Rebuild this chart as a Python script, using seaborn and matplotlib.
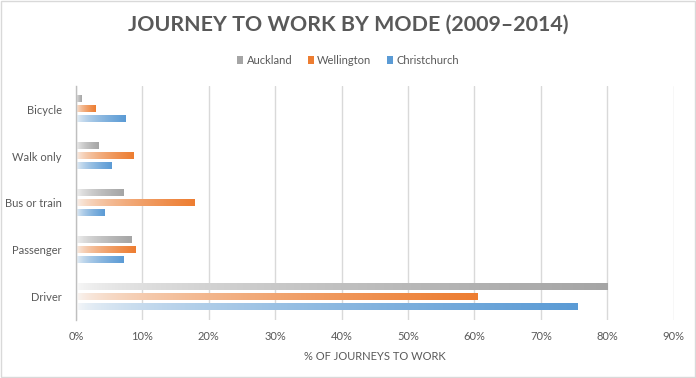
import numpy as np
import pandas as pd
import matplotlib.pyplot as plt
import seaborn as sns
from matplotlib.colors import to_rgb
from matplotlib.patches import Patch, Rectangle

# ---------------------------
# data (percent of journeys to work)
# ---------------------------
modes = ["Bicycle", "Walk only", "Bus or train", "Passenger", "Driver"]
cities = ["Auckland", "Wellington", "Christchurch"]
auckland = [0.8, 3.4, 7.1, 8.3, 80.0]
wellington = [3.0, 8.7, 17.8, 9.0, 60.5]
christchurch = [7.4, 5.3, 4.3, 7.2, 75.5]
city_colors = ["#A5A5A5", "#ED7D31", "#5B9BD5"]
x_ticks = [0, 10, 20, 30, 40, 50, 60, 70, 80, 90]

TEXT = "#595959"
GRID = "#D9D9D9"

df = pd.DataFrame({
    "mode": modes * 3,
    "city": np.repeat(cities, len(modes)),
    "pct": auckland + wellington + christchurch,
})

sns.set_style("white")
plt.rcParams["font.family"] = ["Lato", "DejaVu Sans"]

fig = plt.figure(figsize=(6.96, 3.78), dpi=100)
ax = fig.add_axes([0.109, 0.153, 0.859, 0.620])

sns.barplot(
    data=df, y="mode", x="pct", hue="city",
    order=modes, hue_order=cities, palette=city_colors,
    orient="h", width=0.645, gap=0.38, legend=False, ax=ax,
)


def gradient(color, n=256):
    # white -> colour, brightening quickly then easing into full colour
    t = np.linspace(0, 1, n) ** 0.55
    c = np.array(to_rgb(color))
    rgb = (1 - t)[:, None] * np.array([0.98, 0.98, 0.98]) + t[:, None] * c
    return rgb[None, :, :]


for container, color in zip(ax.containers, city_colors):
    img = gradient(color)
    for bar in container:
        x0, y0 = bar.get_x(), bar.get_y()
        w, h = bar.get_width(), bar.get_height()
        ax.imshow(img, extent=[x0, x0 + w, y0 + h, y0], aspect="auto",
                  interpolation="bilinear", zorder=2)
        bar.set_visible(False)

ax.set_xlim(0, 90)
ax.set_ylim(len(modes) - 0.5, -0.5)
ax.set_xticks(x_ticks)
ax.set_xticklabels([f"{v}%" for v in x_ticks])

ax.set_axisbelow(True)
ax.grid(axis="x", color=GRID, linewidth=1)
ax.grid(axis="y", visible=False)
for side in ["top", "right", "bottom"]:
    ax.spines[side].set_visible(False)
ax.spines["left"].set_color("#BFBFBF")
ax.spines["left"].set_linewidth(1)

ax.tick_params(axis="both", length=0, labelsize=8, labelcolor=TEXT)
ax.tick_params(axis="y", pad=10)
ax.tick_params(axis="x", pad=8)
ax.set_ylabel("")
ax.set_xlabel("% OF JOURNEYS TO WORK", fontsize=8, color=TEXT, labelpad=6)

handles = [Patch(facecolor=c, edgecolor="none") for c in city_colors]
fig.legend(handles, cities, loc="center", bbox_to_anchor=(0.5, 0.841),
           ncol=3, frameon=False, fontsize=8, labelcolor=TEXT,
           handlelength=0.55, handleheight=0.75, handletextpad=0.3,
           columnspacing=1.4)

fig.text(0.5, 0.935, "JOURNEY TO WORK BY MODE (2009\u20132014)",
         ha="center", va="center", fontsize=15.4, fontweight="bold",
         color=TEXT)

# chart border
fig.add_artist(Rectangle((0.001, 0.002), 0.997, 0.995, transform=fig.transFigure,
                         fill=False, edgecolor=GRID, linewidth=1))

fig.savefig("out.png", dpi=100)
